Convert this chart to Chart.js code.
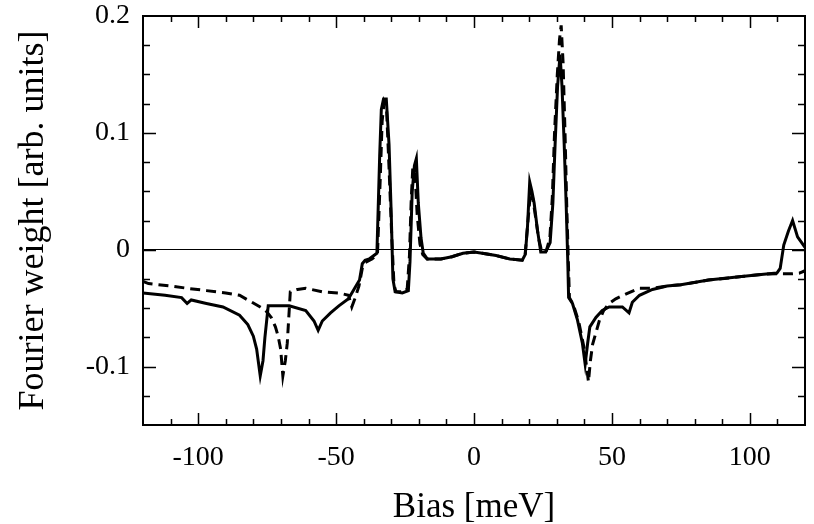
<!DOCTYPE html>
<html>
<head>
<meta charset="utf-8">
<script src="https://cdn.jsdelivr.net/npm/chart.js@4.4.1/dist/chart.umd.min.js"></script>
<style>
  html, body { margin: 0; padding: 0; background: #fff; }
  #wrap { width: 814px; height: 524px; }
</style>
</head>
<body>
<div id="wrap"><canvas id="chart"></canvas></div>
<script>
// values (meV, arb. units)
const biasSolid = [
  -120, -112, -106, -104, -102.5, -97, -91, -85, -82, -80, -78.8, -77.5, -76.5, -75.8, -74.6,
  -67, -61, -58, -56.5, -55, -52, -49, -45.5, -43, -41.5, -40.5, -39.5, -38, -35.2,
  -34.2, -33.6, -32.8, -31.8, -30.8, -30, -29.4, -28.6, -26, -23.8, -23.2, -22.4, -21.6,
  -20.9, -20.2, -19.2, -18.4, -16.9, -12, -8, -4, 0, 3, 8, 13, 17.5, 18.6, 19.4, 20.2,
  21, 21.8, 23, 24.2, 26, 27.6, 28.6, 29.4, 30.3, 31.2, 31.9, 32.7, 33.4, 34, 34.3,
  35.7, 37.5, 39.3, 40.3, 41.2, 42, 44.2, 46.5, 49, 53.8, 56.2, 57.4, 60, 64.7, 70,
  75, 85, 97, 105, 109.8, 111, 112.3, 114, 115.5, 117.3, 120
];
const weightSolid = [
  -0.037, -0.039, -0.041, -0.046, -0.043, -0.046, -0.049, -0.056, -0.064, -0.074, -0.085, -0.108, -0.095, -0.075, -0.048,
  -0.048, -0.052, -0.061, -0.069, -0.061, -0.054, -0.048, -0.042, -0.032, -0.026, -0.012, -0.009, -0.008, -0.003,
  0.08, 0.12, 0.129, 0.129, 0.09, 0.03, -0.025, -0.036, -0.037, -0.035, -0.01, 0.05, 0.072,
  0.078, 0.04, 0.01, -0.003, -0.008, -0.008, -0.006, -0.003, -0.002, -0.003, -0.005, -0.008, -0.009, -0.004, 0.02, 0.058,
  0.05, 0.04, 0.017, -0.002, -0.002, 0.006, 0.04, 0.09, 0.14, 0.167, 0.14, 0.09, 0.04, -0.01, -0.041,
  -0.046, -0.06, -0.08, -0.098, -0.08, -0.066, -0.058, -0.052, -0.049, -0.049, -0.054, -0.045, -0.039, -0.034, -0.031,
  -0.03, -0.026, -0.023, -0.021, -0.02, -0.016, 0.004, 0.016, 0.025, 0.011, 0.002
];

const biasDashed = [
  -120, -118, -110, -104, -97, -90, -85, -80.5, -77.5, -75.5, -73.5, -72, -71, -70.1, -69.3,
  -68.4, -67.7, -66.6, -64, -61, -55, -49, -45.5, -44.3, -43.2, -41.7, -40.5, -39.5, -37, -35,
  -34, -33.3, -32.6, -31.7, -30.8, -29.8, -29, -28.3, -25, -24.2, -23.4, -22.8, -22.2, -21.4,
  -20.6, -19.6, -18.6, -17, -12, -8, -4, 0, 3, 8, 13, 17.5, 18.5, 19.4, 20.5, 21.3, 22.2,
  23.4, 24.6, 26.2, 27.5, 28.4, 29.2, 30.2, 31, 31.6, 32.3, 33, 33.6, 34.2, 34.6, 36, 38,
  40, 41.5, 42.2, 43, 45.4, 47, 49, 51.4, 55, 59.9, 65, 70, 75, 85, 97, 105, 110, 115.5, 118, 120
];
const weightDashed = [
  -0.027, -0.029, -0.031, -0.033, -0.035, -0.037, -0.039, -0.045, -0.049, -0.052, -0.058, -0.066, -0.074, -0.085, -0.108,
  -0.095, -0.08, -0.036, -0.034, -0.033, -0.036, -0.037, -0.039, -0.049, -0.042, -0.031, -0.016, -0.011, -0.008, -0.004,
  0.06, 0.11, 0.126, 0.12, 0.07, 0.01, -0.03, -0.036, -0.036, -0.033, -0.005, 0.04, 0.07, 0.066,
  0.03, 0.005, -0.004, -0.008, -0.008, -0.006, -0.003, -0.002, -0.003, -0.005, -0.008, -0.009, -0.005, 0.02, 0.05, 0.044, 0.03,
  0.01, -0.002, -0.001, 0.01, 0.045, 0.1, 0.15, 0.18, 0.192, 0.16, 0.1, 0.04, -0.01, -0.041, -0.047, -0.062,
  -0.085, -0.113, -0.095, -0.081, -0.061, -0.052, -0.046, -0.042, -0.038, -0.033, -0.033, -0.031, -0.03, -0.026, -0.023, -0.021, -0.0205, -0.0206, -0.02, -0.018
];

const xTicks = [-100, -50, 0, 50, 100];
const yTicks = [-0.1, 0, 0.1, 0.2];

const toPoints = (xs, ys) => xs.map((x, i) => ({ x: x, y: ys[i] }));
const serif = 'Liberation Serif';

// box round the plot, ticks pointing inwards on all four sides
const frameTicks = {
  id: 'frameTicks',
  afterDatasetsDraw(chart) {
    const { ctx, chartArea: a, scales: { x, y } } = chart;
    ctx.save();
    ctx.strokeStyle = '#000';
    ctx.lineWidth = 1.5;
    ctx.beginPath();
    for (let v = -110; v <= 110; v += 10) {
      const px = Math.round(x.getPixelForValue(v)) + 0.5;
      const len = v % 50 === 0 ? 12 : 6;
      ctx.moveTo(px, a.bottom); ctx.lineTo(px, a.bottom - len);
      ctx.moveTo(px, a.top); ctx.lineTo(px, a.top + len);
    }
    for (let i = -5; i <= 7; i++) {
      const py = Math.round(y.getPixelForValue(i * 0.025)) + 0.5;
      const len = i % 4 === 0 ? 13 : 7;
      ctx.moveTo(a.left, py); ctx.lineTo(a.left + len, py);
      ctx.moveTo(a.right, py); ctx.lineTo(a.right - len, py);
    }
    ctx.stroke();
    ctx.lineWidth = 2;
    ctx.strokeRect(a.left, a.top, a.right - a.left, a.bottom - a.top);
    ctx.restore();
  }
};

new Chart(document.getElementById('chart'), {
  type: 'line',
  data: {
    datasets: [
      {
        label: 'solid',
        data: toPoints(biasSolid, weightSolid),
        borderColor: '#000',
        borderWidth: 3,
        pointRadius: 0,
        tension: 0
      },
      {
        label: 'dashed',
        data: toPoints(biasDashed, weightDashed),
        borderColor: '#000',
        borderWidth: 3,
        borderDash: [10, 6],
        pointRadius: 0,
        tension: 0
      }
    ]
  },
  options: {
    responsive: true,
    maintainAspectRatio: false,
    animation: false,
    layout: { padding: { left: 0, right: 9, top: 16, bottom: 0 } },
    plugins: {
      legend: { display: false },
      tooltip: { enabled: false }
    },
    scales: {
      x: {
        type: 'linear',
        min: -120,
        max: 120,
        afterBuildTicks: s => { s.ticks = xTicks.map(v => ({ value: v })); },
        afterFit: s => { s.height = 99; s.paddingLeft = 0; s.paddingRight = 0; },
        grid: { display: false, drawTicks: false },
        border: { display: false },
        ticks: {
          color: '#000',
          padding: 16,
          maxRotation: 0,
          font: { family: serif, size: 28 },
          callback: v => String(v)
        },
        title: {
          display: true,
          text: 'Bias [meV]',
          color: '#000',
          font: { family: serif, size: 35 },
          padding: { top: 0, bottom: -5 }
        }
      },
      y: {
        min: -0.15,
        max: 0.2,
        afterBuildTicks: s => { s.ticks = yTicks.map(v => ({ value: v })); },
        afterFit: s => { s.width = 143; s.paddingTop = 0; s.paddingBottom = 0; },
        grid: {
          drawTicks: false,
          lineWidth: 1,
          color: c => (c.tick && c.tick.value === 0 ? '#000' : 'rgba(0,0,0,0)')
        },
        border: { display: false },
        ticks: {
          color: '#000',
          padding: 13,
          font: { family: serif, size: 28 },
          callback: v => (v === 0 ? '0' : v.toFixed(1))
        },
        title: {
          display: true,
          text: 'Fourier weight [arb. units]',
          color: '#000',
          font: { family: serif, size: 36 },
          padding: { top: 12, bottom: 0 }
        }
      }
    }
  },
  plugins: [frameTicks]
});
</script>
</body>
</html>
